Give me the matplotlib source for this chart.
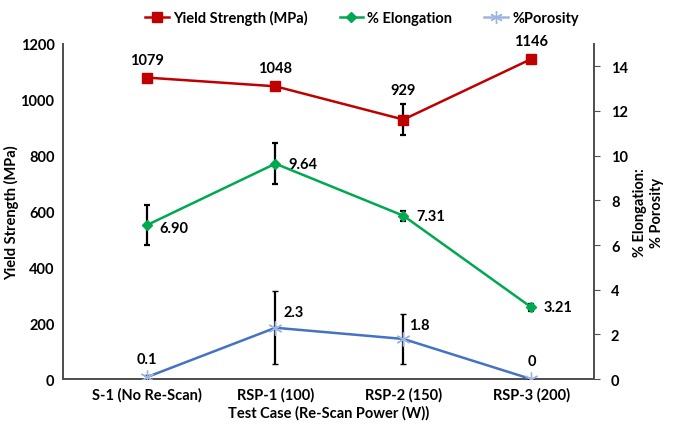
import numpy as np
import matplotlib.pyplot as plt

plt.rcParams['font.family'] = ['Lato', 'DejaVu Sans']
plt.rcParams['font.weight'] = 'bold'

# data
cases = ['S-1 (No Re-Scan)', 'RSP-1 (100)', 'RSP-2 (150)', 'RSP-3 (200)']
yield_strength = [1079, 1048, 929, 1146]
yield_err = [0, 0, 55, 0]
elongation = [6.90, 9.64, 7.31, 3.21]
elong_err = [0.9, 0.92, 0.22, 0.15]
porosity = [0.1, 2.3, 1.8, 0]
poro_err = [0.08, 1.64, 1.1, 0]

ys_labels = ['1079', '1048', '929', '1146']
el_labels = ['6.90', '9.64', '7.31', '3.21']
po_labels = ['0.1', '2.3', '1.8', '0']

red = '#C00000'
green = '#00A84F'
blue = '#4472C4'
light_blue = '#9DB5E0'
spine_col = '#505050'

fig = plt.figure(figsize=(6.83, 4.35), dpi=100)
ax = fig.add_axes([0.092, 0.126, 0.778, 0.771])
ax2 = ax.twinx()

x = np.arange(len(cases))

ax.errorbar(x, yield_strength, yerr=yield_err, color=red, lw=1.8, marker='s',
            ms=7, ecolor='black', elinewidth=1.6, capsize=2.5, capthick=1.6, zorder=3)
ax2.errorbar(x, elongation, yerr=elong_err, color=green, lw=1.8, marker='D',
             ms=5, ecolor='black', elinewidth=1.6, capsize=2.5, capthick=1.6, zorder=3)
ax2.errorbar(x, porosity, yerr=poro_err, color=blue, lw=1.8, marker=(6, 2, 0),
             ms=10, mec=light_blue, mew=1.0, ecolor='black', elinewidth=1.6,
             capsize=2.5, capthick=1.6, zorder=3)

# legend handles
h1, = ax.plot([], [], color=red, lw=1.8, marker='s', ms=7, label='Yield Strength (MPa)')
h2, = ax.plot([], [], color=green, lw=1.8, marker='D', ms=5, label='% Elongation')
h3, = ax.plot([], [], color=light_blue, lw=1.8, marker=(6, 2, 0), ms=9, label='%Porosity')
fig.legend(handles=[h1, h2, h3], loc='upper center', bbox_to_anchor=(0.53, 1.005),
           ncol=3, frameon=False, fontsize=10.5, handlelength=1.6, handletextpad=0.3,
           columnspacing=2.2)

# value labels
ys_dy = [8, 8, 16, 8]
for i, (v, s) in enumerate(zip(yield_strength, ys_labels)):
    ax.annotate(s, (x[i], v), xytext=(0, ys_dy[i]), textcoords='offset points',
                ha='center', va='bottom', fontsize=10.5, fontweight='bold')
for i, (v, s) in enumerate(zip(elongation, el_labels)):
    dy = -2 if i == 0 else 0
    ax2.annotate(s, (x[i], v), xytext=(9, dy), textcoords='offset points',
                 ha='left', va='center', fontsize=10.5, fontweight='bold')
po_off = [(0, 8, 'center'), (6, 6, 'left'), (4, 5, 'left'), (0, 8, 'center')]
for i, (v, s) in enumerate(zip(porosity, po_labels)):
    dx, dy, ha = po_off[i]
    ax2.annotate(s, (x[i], v), xytext=(dx, dy), textcoords='offset points',
                 ha=ha, va='bottom', fontsize=10.5, fontweight='bold')

ax.set_xlim(-0.66, 3.49)
ax.set_ylim(0, 1200)
ax2.set_ylim(0, 15)
ax.set_yticks(np.arange(0, 1201, 200))
ax2.set_yticks(np.arange(0, 15, 2))
ax.set_xticks(x)
ax.set_xticklabels(cases)

ax.set_xlabel('Test Case (Re-Scan Power (W))', fontsize=10.5, fontweight='bold', labelpad=2)
ax.set_ylabel('Yield Strength (MPa)', fontsize=10.5, fontweight='bold')
ax.yaxis.set_label_coords(-0.083, 0.5)
ax2.set_ylabel('% Elongation:\n% Porosity', fontsize=10.5, fontweight='bold', labelpad=4)

for a in (ax, ax2):
    a.spines['top'].set_visible(False)
    for s in ('left', 'right', 'bottom'):
        a.spines[s].set_color(spine_col)
        a.spines[s].set_linewidth(1.3)
    a.tick_params(labelsize=10.5)
ax.tick_params(axis='y', length=0, pad=6)
ax.tick_params(axis='x', length=0, pad=6)
ax2.tick_params(axis='y', length=4, color=spine_col, pad=8)

fig.savefig('out.png', dpi=100)
